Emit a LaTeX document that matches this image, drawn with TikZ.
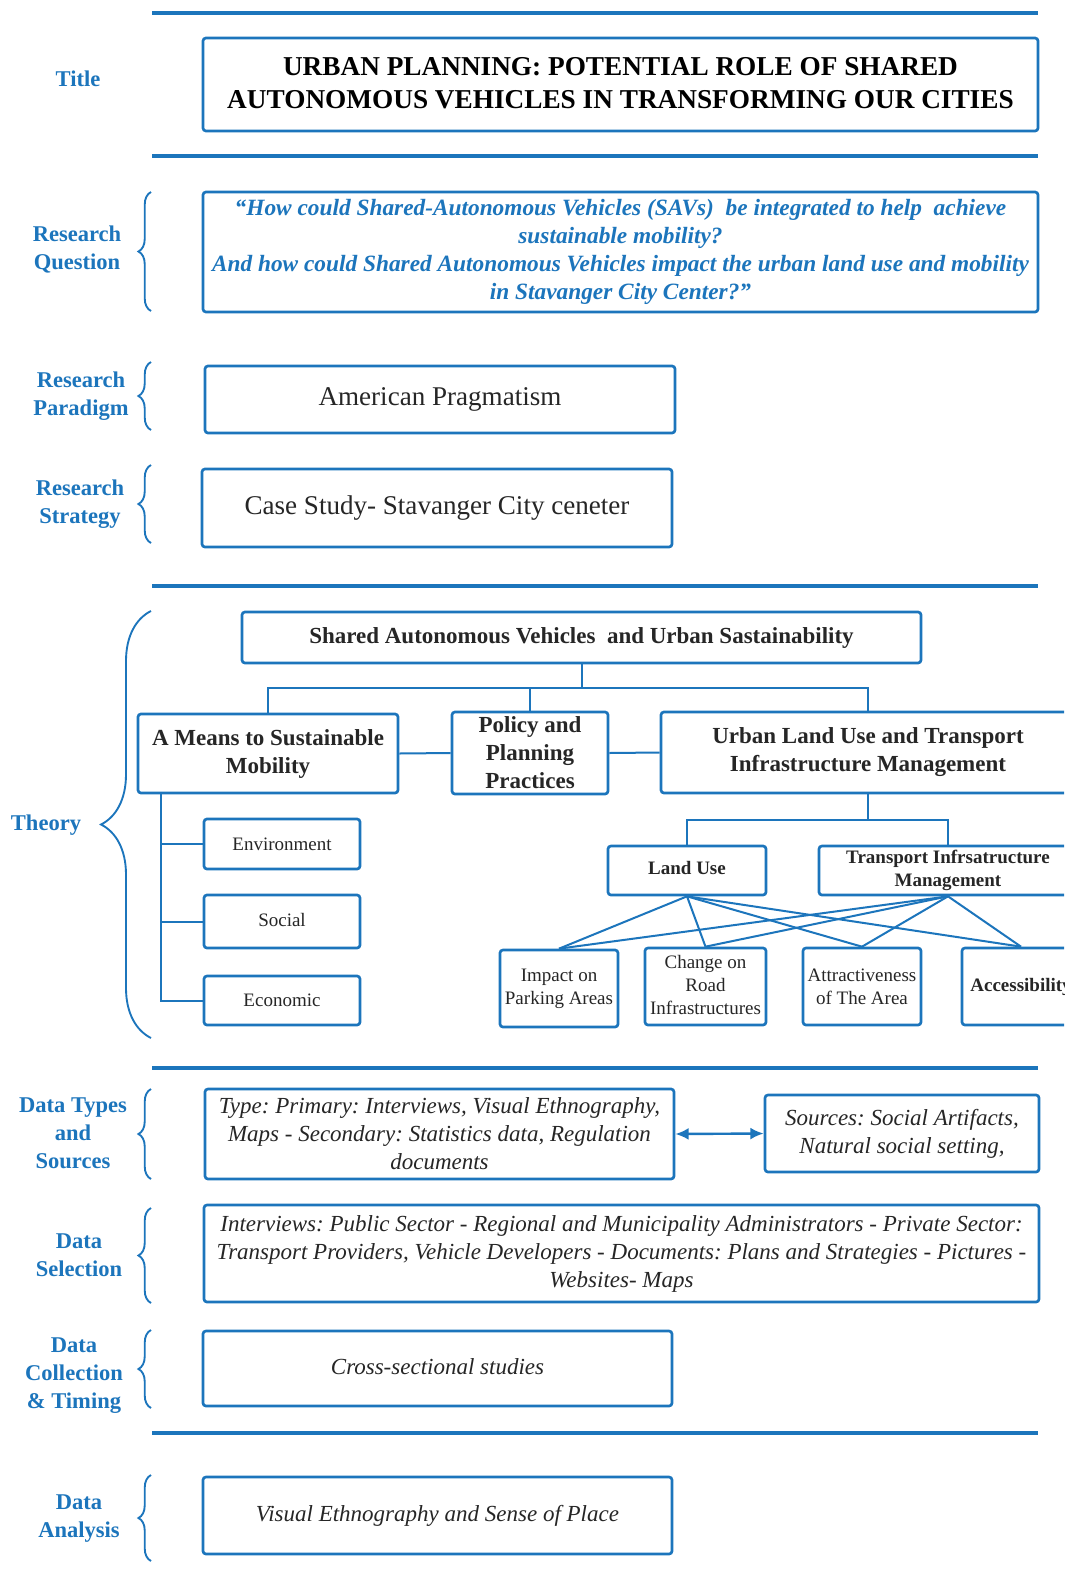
\documentclass[tikz,border=0pt]{standalone}
\usepackage{fontspec}
\setmainfont{Liberation Serif}
\frenchspacing
\usetikzlibrary{arrows.meta,decorations.pathreplacing}
\definecolor{cblue}{RGB}{28,117,188}
\definecolor{ctext}{RGB}{38,38,38}
\begin{document}
\begin{tikzpicture}[x=0.75pt,y=-0.75pt,
  box/.style={draw=cblue, line width=2pt, rounded corners=2.2pt, inner sep=0pt, align=center, text=ctext},
  rulestyle/.style={cblue, line width=3.4pt},
  conn/.style={cblue, line width=1.5pt},
  lbl/.style={text=cblue, font=\fontsize{16.9pt}{21pt}\selectfont\bfseries, align=center, inner sep=0pt},
  brc/.style={cblue, line width=1.4pt, decorate, decoration={brace, amplitude=#1}},
  ftitle/.style={font=\fontsize{20.45pt}{24.75pt}\selectfont\bfseries},
  frq/.style={font=\fontsize{17.5pt}{21pt}\selectfont\bfseries\itshape},
  fbig/.style={font=\fontsize{20.3pt}{24pt}\selectfont},
  fmain/.style={font=\fontsize{17.25pt}{21pt}\selectfont\bfseries},
  fsub/.style={font=\fontsize{14.25pt}{17.25pt}\selectfont},
  fsubb/.style={font=\fontsize{14.25pt}{17.25pt}\selectfont\bfseries},
  fit/.style={font=\fontsize{17.25pt}{21pt}\selectfont\itshape},
  wh/.style 2 args={minimum width=#1*0.75pt, minimum height=#2*0.75pt}
]
\path[use as bounding box] (0,0) rectangle (1064,1585);
\clip (0,0) rectangle (1064,1585);
\fill[white] (0,0) rectangle (1064,1585);

% horizontal rules
\coordinate (r1a) at (152,13);   \coordinate (r1b) at (1038,13);
\coordinate (r2a) at (152,156);  \coordinate (r2b) at (1038,156);
\coordinate (r3a) at (152,586);  \coordinate (r3b) at (1038,586);
\coordinate (r4a) at (152,1068); \coordinate (r4b) at (1038,1068);
\coordinate (r5a) at (152,1433); \coordinate (r5b) at (1038,1433);
\foreach \r in {r1,r2,r3,r4,r5} \draw[rulestyle] (\r a) -- (\r b);

% labels
\node[lbl] (lTitle) at (78,79) {Title};
\node[lbl] (lRQ) at (77,249.5) {Research\\Question};
\node[lbl] (lRP) at (81,396) {Research\\Paradigm};
\node[lbl] (lRS) at (80,504) {Research\\Strategy};
\node[lbl] (lTh) at (46,825) {Theory};
\node[lbl] (lDT) at (73,1133) {Data Types\\and\\Sources};
\node[lbl] (lDS) at (79,1255) {Data\\Selection};
\node[lbl] (lDC) at (74,1376) {Data\\Collection\\\& Timing};
\node[lbl] (lDA) at (79,1518.5) {Data\\Analysis};

% braces
\coordinate (bRQt) at (151,192);  \coordinate (bRQb) at (151,311);
\coordinate (bRPt) at (151,362);  \coordinate (bRPb) at (151,430);
\coordinate (bRSt) at (151,465);  \coordinate (bRSb) at (151,543);
\coordinate (bTht) at (151,611);  \coordinate (bThb) at (151,1038);
\coordinate (bDTt) at (151,1089); \coordinate (bDTb) at (151,1179);
\coordinate (bDSt) at (151,1208); \coordinate (bDSb) at (151,1303);
\coordinate (bDCt) at (151,1330); \coordinate (bDCb) at (151,1408);
\coordinate (bDAt) at (151,1475); \coordinate (bDAb) at (151,1561);
\foreach \b in {bRQ,bRP,bRS,bDT,bDS,bDC,bDA} \draw[brc=9.4pt] (\b b) -- (\b t);
\draw[brc=37.5pt] (bThb) -- (bTht);

% title and question
\node[box, wh={835}{93}, ftitle, text=black, text depth=3pt] (title) at (620.5,84.5)
  {URBAN PLANNING: POTENTIAL ROLE OF SHARED\\AUTONOMOUS VEHICLES IN TRANSFORMING OUR CITIES};
\node[box, wh={835}{120}, frq, text=cblue] (rq) at (620.5,252)
  {“How could Shared-Autonomous Vehicles (SAVs)~ be integrated to help~ achieve\\sustainable mobility?\\And how could Shared Autonomous Vehicles impact the urban land use and mobility\\in Stavanger City Center?”};
\node[box, wh={470}{67}, fbig] (rp) at (440,399.5) {American Pragmatism};
\node[box, wh={470}{78}, fbig] (rs) at (437,508) {Case Study- Stavanger City ceneter};

% theory
\node[box, wh={679}{51}, fmain] (sav) at (581.5,637.5) {Shared Autonomous Vehicles~ and Urban Sastainability};
\node[box, wh={260}{79}, fmain] (means) at (268,753.5) {A Means to Sustainable\\Mobility};
\node[box, wh={156}{82}, fmain] (policy) at (530,753) {Policy and\\Planning\\Practices};
\node[box, wh={414}{81}, fmain] (urban) at (868,752.5) {Urban Land Use and Transport\\Infrastructure Management};
\node[box, wh={156}{50}, fsub] (env) at (282,844) {Environment};
\node[box, wh={156}{53}, fsub, text depth=3pt] (soc) at (282,921.5) {Social};
\node[box, wh={156}{49}, fsub] (eco) at (282,1000.5) {Economic};
\node[box, wh={158}{49}, fsubb, text depth=4.5pt] (lu) at (687,870.5) {Land Use};
\node[box, wh={258}{49}, fsubb] (tim) at (948,870.5) {Transport Infrsatructure\\Management};
\node[box, wh={118}{77}, fsub] (imp) at (559,988.5) {Impact on\\Parking Areas};
\node[box, wh={121}{77}, fsub, text depth=3pt] (chg) at (705.5,986.5) {Change on\\Road\\Infrastructures};
\node[box, wh={118}{77}, fsub] (att) at (862,986.5) {Attractiveness\\of The Area};
\node[box, wh={118}{77}, fsubb] (acc) at (1021,986.5) {Accessibility};

\draw[conn] (sav.south) -- ++(0,24) coordinate (bus1);
\draw[conn] (means.north) |- (bus1) -| (urban.north);
\draw[conn] (policy.north) -- (policy.north |- bus1);
\draw[conn] (means.east) -- (policy.west);
\draw[conn] (policy.east) -- (urban.west);
\coordinate (trunk) at (161,793);
\draw[conn] (trunk) |- (eco.west);
\draw[conn] (env.west) -- (env.west -| trunk);
\draw[conn] (soc.west) -- (soc.west -| trunk);
\draw[conn] (urban.south) -- ++(0,26) coordinate (bus2);
\draw[conn] (lu.north) |- (bus2) -| (tim.north);
\foreach \t in {imp,chg,att,acc} {
  \draw[conn] (lu.south) -- (\t.north);
  \draw[conn] (tim.south) -- (\t.north);
}

% data
\node[box, wh={469}{90}, fit] (dt) at (439.5,1134)
  {Type: Primary: Interviews, Visual Ethnography,\\Maps - Secondary: Statistics data, Regulation\\documents};
\node[box, wh={274}{77}, fit] (src) at (902,1133.5) {Sources: Social Artifacts,\\Natural social setting,};
\draw[conn, line width=1.8pt, {Latex[length=10pt,width=9pt]}-{Latex[length=10pt,width=9pt]}] (dt.east) -- (src.west);
\node[box, wh={835}{97}, fit] (ds) at (621.5,1253.5)
  {Interviews: Public Sector - Regional and Municipality Administrators - Private Sector:\\Transport Providers, Vehicle Developers - Documents: Plans and Strategies - Pictures -\\Websites- Maps};
\node[box, wh={469}{75}, fit, text depth=3pt] (dc) at (437.5,1368.5) {Cross-sectional studies};
\node[box, wh={469}{77}, fit] (da) at (437.5,1515.5) {Visual Ethnography and Sense of Place};
\end{tikzpicture}
\end{document}
